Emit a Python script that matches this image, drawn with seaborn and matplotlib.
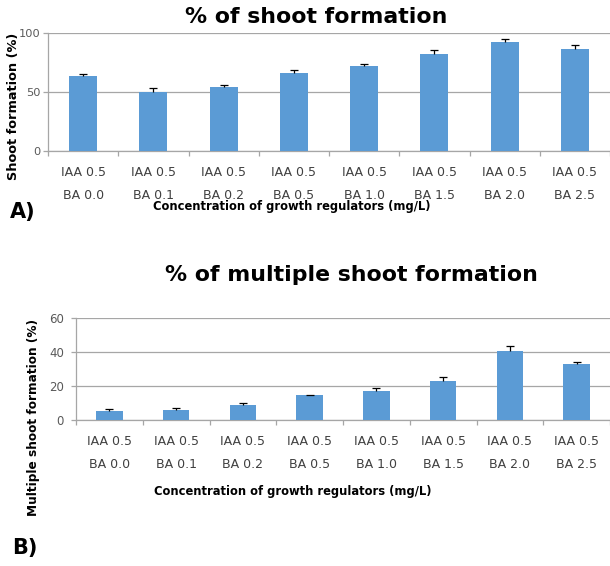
import numpy as np
import pandas as pd
import matplotlib
matplotlib.use('Agg')
import matplotlib.pyplot as plt
import seaborn as sns

iaa = ['IAA 0.5'] * 8
ba = ['BA 0.0', 'BA 0.1', 'BA 0.2', 'BA 0.5', 'BA 1.0', 'BA 1.5', 'BA 2.0', 'BA 2.5']
shoot = [63.7, 50.4, 54.0, 66.5, 72.6, 82.5, 92.9, 86.7]
shoot_err = [1.7, 3.0, 2.3, 2.3, 1.7, 3.0, 2.5, 3.4]
multi = [5.2, 5.8, 9.1, 14.6, 16.9, 23.1, 40.8, 32.8]
multi_err = [1.0, 1.2, 1.0, 0.4, 1.7, 2.1, 2.7, 1.6]
shoot_ticks = [0, 50, 100]
multi_ticks = [0, 20, 40, 60]

labels = [a + '\n' + b for a, b in zip(iaa, ba)]
df = pd.DataFrame({'treatment': labels, 'shoot': shoot, 'multi': multi})

BAR = '#5B9BD5'
GRID = '#A6A6A6'

plt.rcParams['font.family'] = ['DejaVu Sans']

fig = plt.figure(figsize=(6.10, 5.66), dpi=100)
W, H = 610, 566


def box(l, t, r, b):
    return [l / W, 1 - b / H, (r - l) / W, (b - t) / H]


def draw(ax, col, err, ticks, xmax, ypad, ysize):
    sns.barplot(data=df, x='treatment', y=col, color=BAR, width=0.4,
                saturation=1, errorbar=None, ax=ax, zorder=3)
    # upper error bars only, like the original spreadsheet chart
    eb = ax.errorbar(np.arange(8), df[col], yerr=[np.zeros(8), err], fmt='none',
                     ecolor='black', elinewidth=0.9, capsize=3, capthick=0.9,
                     zorder=4)
    eb[1][0].set_visible(False)
    ax.set_xlim(-0.5, xmax)
    ax.set_ylim(ticks[0], ticks[-1])
    ax.set_yticks(ticks)
    ax.yaxis.grid(True, color=GRID, linewidth=0.9, zorder=0)
    for s in ['top', 'right']:
        ax.spines[s].set_visible(False)
    for s in ['left', 'bottom']:
        ax.spines[s].set_color(GRID)
        ax.spines[s].set_linewidth(0.9)
    ax.set_xticks(np.arange(8))
    ax.set_xticklabels(labels, linespacing=1.95)
    ax.set_xticks(np.arange(-0.5, 8, 1), minor=True)
    ax.tick_params(axis='x', which='major', length=0, pad=11,
                   labelsize=9, labelcolor='#404040')
    ax.tick_params(axis='x', which='minor', length=3.6, color=GRID, width=0.9)
    ax.tick_params(axis='y', length=3.6, color=GRID, width=0.9, pad=ypad,
                   labelsize=ysize, labelcolor='#595959')
    ax.set_xlabel('')
    ax.set_ylabel('')


ax1 = fig.add_axes(box(48, 33.3, 610, 151))
draw(ax1, 'shoot', shoot_err, shoot_ticks, 7.5, 1.5, 8.2)
ax2 = fig.add_axes(box(76, 318.3, 610, 420))
draw(ax2, 'multi', multi_err, multi_ticks, 7.39, 5, 8.5)

fig.text(316 / W, 1 - 17 / H, '% of shoot formation', ha='center', va='center',
         fontsize=15.8, fontweight='bold')
fig.text(351 / W, 1 - 275 / H, '% of multiple shoot formation', ha='center',
         va='center', fontsize=15.8, fontweight='bold')

fig.text(14 / W, 1 - 106 / H, 'Shoot formation (%)', rotation=90, ha='center',
         va='center', fontsize=9.3, fontweight='bold')
fig.text(34 / W, 1 - 418 / H, 'Multiple shoot formation (%)', rotation=90,
         ha='center', va='center', fontsize=8.7, fontweight='bold')

fig.text(292 / W, 1 - 207 / H, 'Concentration of growth regulators (mg/L)',
         ha='center', va='center', fontsize=8.3, fontweight='bold')
fig.text(293 / W, 1 - 491 / H, 'Concentration of growth regulators (mg/L)',
         ha='center', va='center', fontsize=8.3, fontweight='bold')

fig.text(10 / W, 1 - 212 / H, 'A)', ha='left', va='center', fontsize=15,
         fontweight='bold')
fig.text(12 / W, 1 - 548 / H, 'B)', ha='left', va='center', fontsize=15,
         fontweight='bold')

fig.savefig('out.png', dpi=100)
